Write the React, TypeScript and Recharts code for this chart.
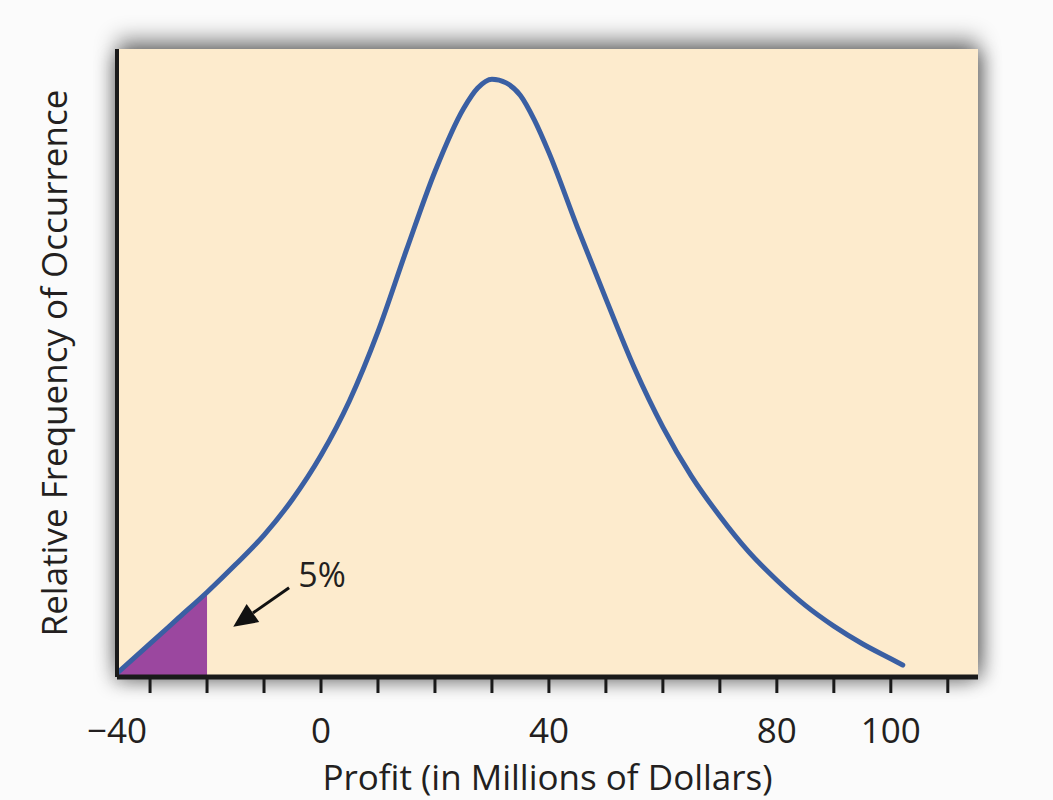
import React from 'react';
import {
  ComposedChart,
  Area,
  Line,
  XAxis,
  YAxis,
  CartesianGrid,
  ReferenceLine,
  ReferenceDot,
  Label,
} from 'recharts';

// profit values (millions of dollars)
const profit = [-35.8, -30, -25, -20, -15, -10, -5, 0, 5, 10, 15, 20, 25, 27.5, 30, 32.5, 35, 37.5, 40, 45, 50, 55, 60, 65, 70, 75, 80, 85, 90, 95, 100, 102.1];
// relative frequency, arbitrary units (peak ~95)
const frequency = [0.6, 5.3, 9.4, 13.5, 17.9, 22.6, 28.3, 35.3, 44.0, 55.0, 68.0, 80.5, 90.5, 93.8, 95.2, 94.6, 92.6, 88.6, 83.5, 71.6, 60.2, 49.2, 39.8, 32.0, 25.6, 20.0, 15.4, 11.4, 8.1, 5.3, 2.9, 1.9];

// lower 5% tail ends here
const tailCutoff = -20;

const xMin = -35.8;
const xMax = 115.3;
const tickValues = [xMin, -30, -20, -10, 0, 10, 20, 30, 40, 50, 60, 70, 80, 90, 100, 110];
const tickLabels: Record<string, string> = { [String(xMin)]: '\u221240', '0': '0', '40': '40', '80': '80', '100': '100' };

// arrow pointing at the shaded tail: [start, tip]
const arrowFrom = { x: -5.6, y: 14.2 };
const arrowTo = { x: -15.4, y: 8.0 };
const noteAt = { x: 0.2, y: 16.2 };

const data = profit.map((x, i) => ({
  x,
  freq: frequency[i],
  tail: x <= tailCutoff ? frequency[i] : null,
}));

const font = '"Open Sans", "Noto Sans", sans-serif';
const ink = '#231f20';

const XTick = (props: any) => {
  const { x, y, payload } = props;
  const label = tickLabels[String(payload.value)];
  return (
    <g>
      {payload.value !== xMin && (
        <line x1={x} y1={y} x2={x} y2={y + 16} stroke="#1a1a1a" strokeWidth={3} />
      )}
      {label && (
        <text x={x} y={y + 66} textAnchor="middle" fontSize={35} fill={ink} fontFamily={font}>
          {label}
        </text>
      )}
    </g>
  );
};

const Arrow = (props: any) => {
  const { x1, y1, x2, y2 } = props;
  const ang = Math.atan2(y2 - y1, x2 - x1);
  const len = 24;
  const half = 11;
  const bx = x2 - len * Math.cos(ang);
  const by = y2 - len * Math.sin(ang);
  const px = -Math.sin(ang) * half;
  const py = Math.cos(ang) * half;
  return (
    <g>
      <line x1={x1} y1={y1} x2={bx} y2={by} stroke="#111" strokeWidth={3} />
      <polygon points={`${x2},${y2} ${bx + px},${by + py} ${bx - px},${by - py}`} fill="#111" />
    </g>
  );
};

const App: React.FC = () => {
  return (
    <div style={{ position: 'absolute', left: 0, top: 0, width: 1053, height: 800, background: '#fbfbfb', overflow: 'hidden' }}>
      <div
        style={{
          position: 'absolute',
          left: 117,
          top: 49,
          width: 861,
          height: 628,
          boxShadow: '0 -10px 20px rgba(0,0,0,0.45), 7px 4px 16px rgba(0,0,0,0.3), -7px 8px 16px rgba(0,0,0,0.22)',
        }}
      />
      <div style={{ position: 'absolute', left: 0, top: 0 }}>
        <ComposedChart width={1053} height={800} data={data} margin={{ top: 49, right: 75, left: 55, bottom: 0 }}>
          <CartesianGrid horizontal={false} vertical={false} fill="#fdebcd" stroke="none" />
          <XAxis
            type="number"
            dataKey="x"
            domain={[xMin, xMax]}
            ticks={tickValues}
            interval={0}
            allowDataOverflow
            height={123}
            tickSize={0}
            tickMargin={0}
            tickLine={false}
            axisLine={{ stroke: '#1a1a1a', strokeWidth: 5 }}
            tick={<XTick />}
          >
            <Label value="Profit (in Millions of Dollars)" position="insideBottom" offset={10} fontSize={35} fill={ink} fontFamily={font} />
          </XAxis>
          <YAxis
            type="number"
            domain={[0, 100]}
            width={62}
            tick={false}
            tickLine={false}
            axisLine={{ stroke: '#1a1a1a', strokeWidth: 4 }}
          >
            <Label
              value="Relative Frequency of Occurrence"
              angle={-90}
              position="insideLeft"
              offset={0}
              textAnchor="middle"
              fontSize={35}
              fill={ink}
              fontFamily={font}
            />
          </YAxis>
          <Area type="monotone" dataKey="tail" fill="#9b479f" fillOpacity={1} stroke="none" isAnimationActive={false} />
          <Line type="monotone" dataKey="freq" stroke="#3a5fa3" strokeWidth={5} dot={false} strokeLinecap="round" isAnimationActive={false} />
          <ReferenceLine segment={[arrowFrom, arrowTo]} shape={<Arrow />} />
          <ReferenceDot
            x={noteAt.x}
            y={noteAt.y}
            r={0}
            fill="none"
            stroke="none"
            label={{ value: '5%', position: 'center', fontSize: 34, fill: ink, fontFamily: font }}
          />
        </ComposedChart>
      </div>
    </div>
  );
};

export default App;
